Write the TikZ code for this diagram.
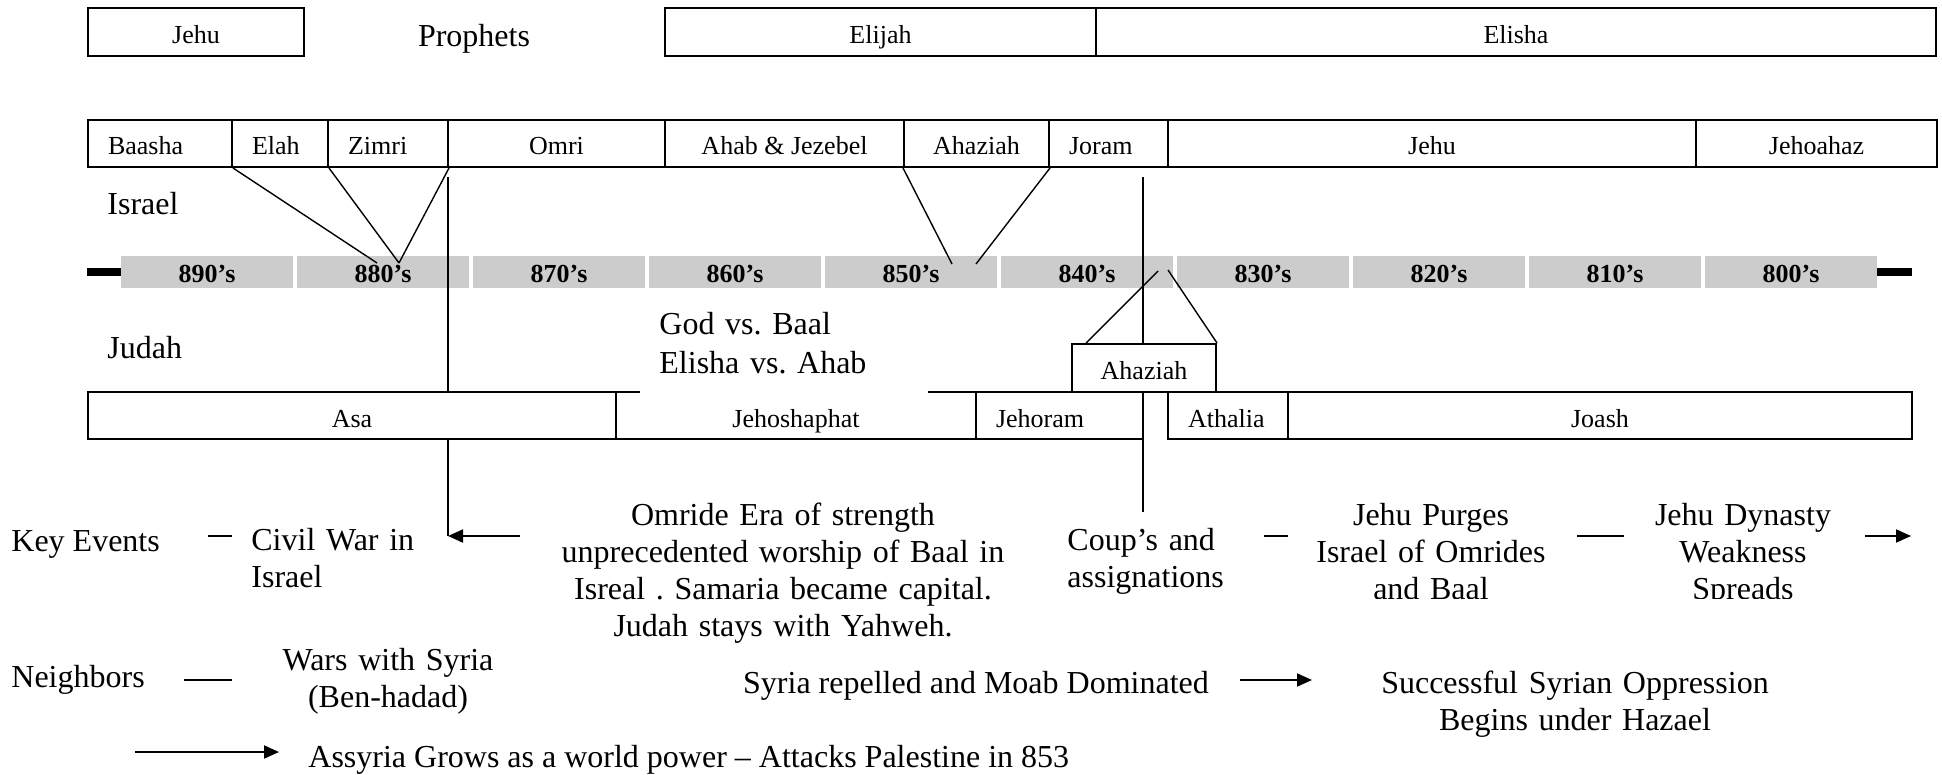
\documentclass[tikz,border=0pt]{standalone}
\usepackage{fontspec}
\setmainfont{Liberation Serif}
\usetikzlibrary{arrows.meta,calc}
\frenchspacing
\newcommand\kbx[7]{\node[kbox,#7,minimum width={(#3-#2)*0.5pt},minimum height={(#5-#4)*0.5pt}] (#1) at ({(#2+#3)/2},{(#4+#5)/2}) {#6};}
\newcommand\kbl[6]{\node[kbox,align=left,text width={(#3-#2-40)*0.5pt},minimum width={(#3-#2)*0.5pt},minimum height={(#5-#4)*0.5pt}] (#1) at ({(#2+#3)/2},{(#4+#5)/2}) {#6};}
\begin{document}
\begin{tikzpicture}[x=0.5pt,y=-0.5pt,
  kbox/.style={draw, line width=1pt, fill=white, inner sep=0pt, font=\fontsize{13pt}{15pt}\selectfont, text height=11.5pt, text depth=0pt},
  tbox/.style={fill=black!20, inner sep=0pt, font=\fontsize{13pt}{15pt}\selectfont\bfseries, text height=10pt, text depth=0pt, minimum width=86pt, minimum height=16pt},
  big/.style={font=\fontsize{16pt}{18.5pt}\selectfont, inner sep=0pt},
  conn/.style={line width=0.7pt},
  vline/.style={line width=1pt},
  arr/.style={line width=1pt, -{Triangle[length=7.5pt,width=6.5pt]}},
  bar/.style={line width=4pt}
]
\useasboundingbox (0,0) rectangle (1942,775);

% timeline
\foreach \i/\lab in {0/890,1/880,2/870,3/860,4/850,5/840,6/830,7/820,8/810,9/800}
  \node[tbox] (t\lab) at ({121+176*\i+86},272) {\lab’s};
\coordinate (barL) at (87,272);
\coordinate (barR) at (1912,272);
\draw[bar] (barL) -- (t890.west);
\draw[bar] (t800.east) -- (barR);

% vertical lines
\coordinate (zimTop) at (448,177);
\coordinate (civTip) at (448,536);
\coordinate (omrTail) at (520,536);
\coordinate (jorTop) at (1143,177);
\coordinate (jorBot) at (1143,512);
\draw[vline] (zimTop) -- (civTip);
\draw[vline] (jorTop) -- (jorBot);

% prophets row
\kbx{pjehu}{88}{304}{8}{56}{Jehu}{}
\node[big, anchor=base] (prophets) at (474,47) {Prophets};
\kbx{elijah}{665}{1096}{8}{56}{Elijah}{}
\kbx{elisha}{1096}{1936}{8}{56}{Elisha}{}

% Israel kings
\kbl{baasha}{88}{232}{120}{167}{Baasha}
\kbl{elah}{232}{328}{120}{167}{Elah}
\kbl{zimri}{328}{448}{120}{167}{Zimri}
\kbx{omri}{448}{665}{120}{167}{Omri}{}
\kbx{ahab}{665}{904}{120}{167}{Ahab \& Jezebel}{}
\kbx{ahazI}{904}{1049}{120}{167}{Ahaziah}{}
\kbl{joram}{1049}{1168}{120}{167}{Joram}
\kbx{jehu}{1168}{1696}{120}{167}{Jehu}{}
\kbx{jehoahaz}{1696}{1937}{120}{167}{Jehoahaz}{}

\node[big, anchor=base west] (israel) at (107,215) {Israel};
\node[big, anchor=base west] (judah) at (107,358) {Judah};

% Judah kings
\kbx{asa}{88}{616}{392}{439}{Asa}{}
\kbx{jehoshaphat}{616}{976}{392}{439}{Jehoshaphat}{}
\kbl{jehoram}{976}{1143}{392}{439}{Jehoram}
\kbl{athalia}{1168}{1288}{392}{439}{Athalia}
\kbx{joash}{1288}{1912}{392}{439}{Joash}{}
\kbx{ahazJ}{1072}{1216}{344}{392}{Ahaziah}{}

% connectors into the timeline
\coordinate (v88) at (377,263);
\coordinate (vz) at (399,263);
\coordinate (va1) at (952,264);
\coordinate (va2) at (976,264);
\coordinate (vj1) at (1158,271);
\coordinate (vj2) at (1168,270);
\draw[conn] (baasha.south east) -- (v88);
\draw[conn] (elah.south east) -- (vz);
\draw[conn] (zimri.south east) -- (vz);
\draw[conn] (ahazI.south west) -- (va1);
\draw[conn] (ahazI.south east) -- (va2);
\draw[conn] ($(ahazJ.north west)+(15,0)$) -- (vj1);
\draw[conn] (ahazJ.north east) -- (vj2);

% God vs Baal
\fill[white] (640,300) rectangle (928,393.5);
\node[big, anchor=base west, text width=140pt, align=left, font=\fontsize{16pt}{19.5pt}\selectfont] (godbaal) at (659,334) {God vs. Baal\\Elisha vs. Ahab};

% Key events
\node[big, anchor=base west] (keyev) at (11,551) {Key Events};
\coordinate (kd1) at (208,536); \coordinate (kd2) at (232,536);
\draw[vline] (kd1) -- (kd2);
\node[big, anchor=base west, text width=100pt, align=left] (civil) at (251,550) {Civil War in\\Israel};
\draw[arr] (omrTail) -- (civTip);
\node[big, anchor=base, text width=240pt, align=center] (omride) at (783,525) {Omride Era of strength\\unprecedented worship of Baal in\\Isreal . Samaria became capital.\\Judah stays with Yahweh.};
\node[big, anchor=base west, text width=100pt, align=left] (coup) at (1067,550) {Coup’s and\\assignations};
\coordinate (cd1) at (1264,536); \coordinate (cd2) at (1288,536);
\draw[vline] (cd1) -- (cd2);
\begin{scope}
\clip (1300,480) rectangle (1900,598);
\node[big, anchor=base, text width=150pt, align=center] (purge) at (1431,525) {Jehu Purges\\Israel of Omrides\\and Baal};
\node[big, anchor=base, text width=150pt, align=center] (dynasty) at (1743,525) {Jehu Dynasty\\Weakness\\Spreads};
\end{scope}
\coordinate (pd1) at (1577,536); \coordinate (pd2) at (1624,536);
\draw[vline] (pd1) -- (pd2);
\coordinate (da1) at (1865,536); \coordinate (da2) at (1911,536);
\draw[arr] (da1) -- (da2);

% Neighbors
\node[big, anchor=base west] (neigh) at (11,687) {Neighbors};
\coordinate (nd1) at (184,680); \coordinate (nd2) at (232,680);
\draw[vline] (nd1) -- (nd2);
\node[big, anchor=base, text width=120pt, align=center] (wars) at (388,670) {Wars with Syria\\(Ben-hadad)};
\node[big, anchor=base] (repel) at (976,693) {Syria repelled and Moab Dominated};
\coordinate (ra1) at (1240,680); \coordinate (ra2) at (1312,680);
\draw[arr] (ra1) -- (ra2);
\node[big, anchor=base, text width=230pt, align=center] (succ) at (1575,693) {Successful Syrian Oppression\\Begins under Hazael};

% Assyria
\coordinate (aa1) at (135,752); \coordinate (aa2) at (279,752);
\draw[arr] (aa1) -- (aa2);
\node[big, anchor=base west] (assyria) at (308,767) {Assyria Grows as a world power – Attacks Palestine in 853};
\end{tikzpicture}
\end{document}
